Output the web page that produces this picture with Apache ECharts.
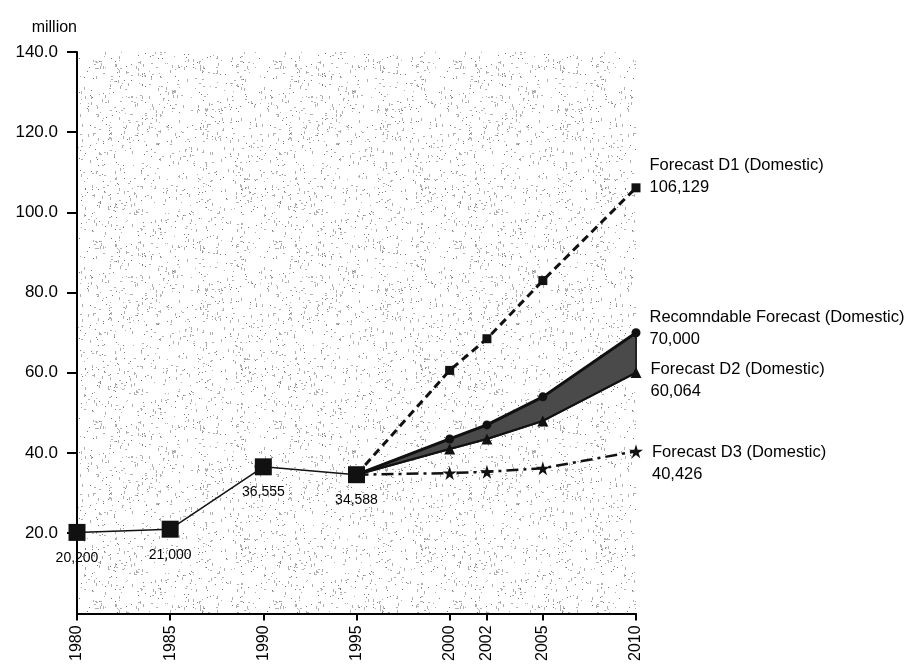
<!DOCTYPE html>
<html>
<head>
<meta charset="utf-8">
<script src="https://cdn.jsdelivr.net/npm/echarts@6/dist/echarts.min.js"></script>
<style>
  html, body { margin: 0; padding: 0; background: #fff; }
  #main { width: 912px; height: 664px; }
</style>
</head>
<body>
<div id="main"></div>
<script>
// years and values (million)
const histYears = [1980, 1985, 1990, 1995];
const histValues = [20.2, 21.0, 36.555, 34.588];
const fcYears = [1995, 2000, 2002, 2005, 2010];
const d1Values = [34.588, 60.6, 68.5, 83.0, 106.129];
const recValues = [34.588, 43.5, 47.0, 54.0, 70.0];
const d2Values = [34.588, 41.0, 43.5, 48.0, 60.064];
const d3Values = [34.588, 35.0, 35.3, 36.2, 40.426];
const xTicks = [1980, 1985, 1990, 1995, 2000, 2002, 2005, 2010];

const FONT = '"Liberation Sans", Arial, sans-serif';

function fmt(v) {
    return Math.round(v * 1000).toLocaleString('en-US');
}

// stipple texture for the plot background
function makeStipple() {
    const n = 180;
    const c = document.createElement('canvas');
    c.width = n; c.height = n;
    const ctx = c.getContext('2d');
    ctx.fillStyle = '#ffffff';
    ctx.fillRect(0, 0, n, n);
    let s = 987654321;
    function next() {
        s = (s * 1103515245 + 12345) % 2147483648;
        return (s >>> 8) / 8388608;
    }
    for (let i = 0; i < 950; i++) {
        const x = Math.floor(next() * n);
        const y = Math.floor(next() * n);
        const r = next();
        ctx.fillStyle = r < 0.3 ? '#777' : '#b0b0b0';
        if (r > 0.75) ctx.fillRect(x, y, 1, 3);
        else if (r > 0.5) ctx.fillRect(x, y, 2, 1);
        else ctx.fillRect(x, y, 1, 1);
    }
    return c;
}

function pairs(xs, ys) {
    return xs.map((x, i) => [x, ys[i]]);
}

// forecast line: no marker at 1995, label on the last point
function fcData(values, name) {
    return fcYears.map((y, i) => {
        const item = { value: [y, values[i]] };
        if (i === 0) item.symbol = 'none';
        if (i === fcYears.length - 1) {
            item.label = { show: true, formatter: name + '\n' + fmt(values[i]) };
        }
        return item;
    });
}

const chart = echarts.init(document.getElementById('main'));

const endLabel = {
    position: 'right',
    color: '#000',
    fontFamily: FONT,
    fontSize: 16.5,
    lineHeight: 22,
    align: 'left'
};

chart.setOption({
    animation: false,
    backgroundColor: '#fff',
    grid: {
        left: 77, right: 276, top: 52, bottom: 47,
        show: true,
        borderWidth: 0,
        backgroundColor: { image: makeStipple(), repeat: 'repeat' }
    },
    xAxis: {
        type: 'value',
        min: 1980,
        max: 2010,
        splitLine: { show: false },
        axisLine: { show: true, lineStyle: { color: '#000', width: 2 } },
        axisTick: { show: true, length: 7, lineStyle: { color: '#000', width: 2 }, customValues: xTicks },
        axisLabel: {
            rotate: 90,
            color: '#000',
            fontFamily: FONT,
            fontSize: 16,
            margin: 12,
            customValues: xTicks,
            formatter: v => String(v)
        }
    },
    yAxis: {
        type: 'value',
        min: 0,
        max: 140,
        interval: 20,
        name: 'million',
        nameLocation: 'end',
        nameGap: 16,
        nameTextStyle: { color: '#000', fontFamily: FONT, fontSize: 16, align: 'right' },
        splitLine: { show: false },
        axisLine: { show: true, lineStyle: { color: '#000', width: 2 } },
        axisTick: { show: true, length: 10, lineStyle: { color: '#000', width: 2 } },
        axisLabel: {
            color: '#000',
            fontFamily: FONT,
            fontSize: 17,
            margin: 19,
            showMinLabel: false,
            formatter: v => v.toFixed(1)
        }
    },
    series: [
        {
            // shaded band between the recommendable forecast and D2
            name: 'band',
            type: 'custom',
            data: fcYears.map((y, i) => [y, d2Values[i], recValues[i]]),
            encode: { x: 0, y: [1, 2] },
            silent: true,
            z: 1,
            renderItem: (params, api) => {
                if (params.dataIndex !== 0) return null;
                const top = fcYears.map((y, i) => api.coord([y, recValues[i]]));
                const bottom = fcYears.map((y, i) => api.coord([y, d2Values[i]])).reverse();
                return {
                    type: 'polygon',
                    shape: { points: top.concat(bottom) },
                    style: { fill: '#4a4a4a', stroke: '#222', lineWidth: 2 }
                };
            }
        },
        {
            name: 'Actual',
            type: 'line',
            data: pairs(histYears, histValues),
            symbol: 'rect',
            symbolSize: 17,
            itemStyle: { color: '#111' },
            lineStyle: { color: '#111', width: 1.5 },
            label: {
                show: true,
                position: 'bottom',
                distance: 10,
                color: '#000',
                fontFamily: FONT,
                fontSize: 14,
                formatter: p => fmt(p.value[1])
            },
            z: 5
        },
        {
            name: 'Forecast D1 (Domestic)',
            type: 'line',
            data: fcData(d1Values, 'Forecast D1 (Domestic)'),
            symbol: 'rect',
            symbolSize: 9,
            itemStyle: { color: '#111' },
            lineStyle: { color: '#111', width: 3, type: [8, 5] },
            label: Object.assign({}, endLabel, { offset: [4, -11] }),
            z: 4
        },
        {
            name: 'Recomndable Forecast (Domestic)',
            type: 'line',
            data: fcData(recValues, 'Recomndable Forecast (Domestic)'),
            symbol: 'circle',
            symbolSize: 9,
            itemStyle: { color: '#111' },
            lineStyle: { color: '#111', width: 3 },
            label: Object.assign({}, endLabel, { offset: [4, -4] }),
            z: 4
        },
        {
            name: 'Forecast D2 (Domestic)',
            type: 'line',
            data: fcData(d2Values, 'Forecast D2 (Domestic)'),
            symbol: 'triangle',
            symbolSize: 11,
            itemStyle: { color: '#111' },
            lineStyle: { color: '#111', width: 2 },
            label: Object.assign({}, endLabel, { offset: [4, 8] }),
            z: 4
        },
        {
            name: 'Forecast D3 (Domestic)',
            type: 'line',
            data: fcData(d3Values, 'Forecast D3 (Domestic)'),
            symbol: 'path://M50,0 L61,35 L98,35 L68,57 L79,91 L50,70 L21,91 L32,57 L2,35 L39,35 Z',
            symbolSize: 14,
            itemStyle: { color: '#111' },
            lineStyle: { color: '#111', width: 2.5, type: [12, 5, 3, 5] },
            label: Object.assign({}, endLabel, { offset: [4, 12] }),
            z: 4
        }
    ]
});
</script>
</body>
</html>
